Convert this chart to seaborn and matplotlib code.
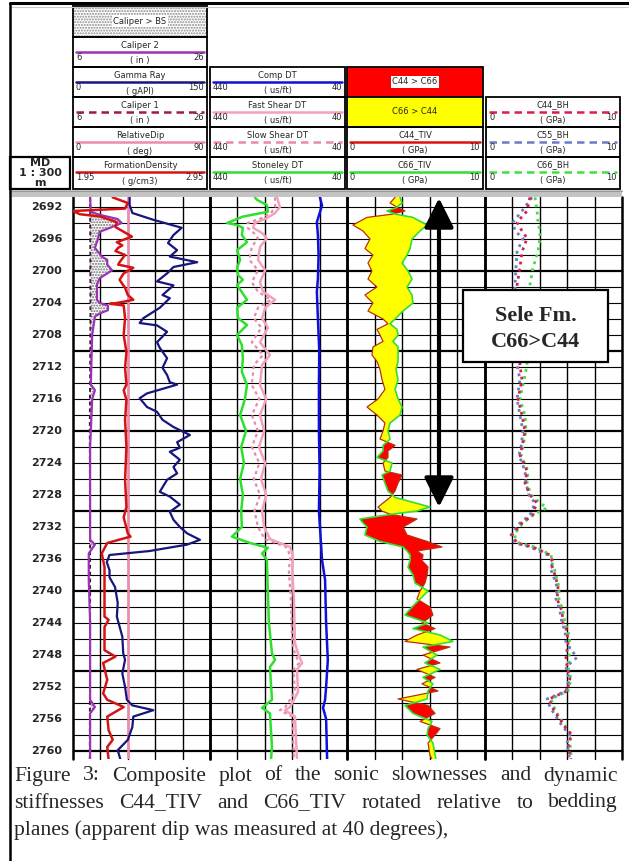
import numpy as np
import matplotlib
matplotlib.use('Agg')
import matplotlib.pyplot as plt
from matplotlib.patches import Rectangle
import seaborn as sns

W, H = 629, 861
TOP_PX, BOT_PX = 197, 759
D_TOP, D_BOT = 2690.75, 2761.0

# ---- track 2: caliper / gamma ray / density / dip
gr_depth = [2690.8, 2691.75, 2692.75, 2693.6, 2694.6, 2695.5, 2696.5, 2697.4, 2698.2, 2698.9,
            2699.5, 2700.3, 2701.3, 2701.8, 2703.0, 2703.4, 2704.6, 2705.9, 2706.5, 2706.8,
            2707.6, 2708.9, 2709.6, 2710.9, 2712.1, 2713.0, 2713.9, 2714.2, 2715.3, 2715.9,
            2717.0, 2717.6, 2718.6, 2719.5, 2720.5, 2721.4, 2722.1, 2722.6, 2723.6, 2724.5,
            2725.3, 2726.1, 2727.6, 2728.2, 2729.2, 2730.1, 2731.1, 2732.0, 2732.8, 2733.6,
            2734.2, 2735.0, 2735.5, 2736.4, 2737.4, 2738.3, 2739.5, 2741.5, 2743.2, 2745.7,
            2747.8, 2748.6, 2750.3, 2752.0, 2753.6, 2754.3, 2754.9, 2755.7, 2757.0, 2758.6,
            2759.9, 2761.1]
gr_api = [62, 62, 65, 88, 119, 110, 104, 114, 106, 136,
          110, 103, 92, 110, 98, 106, 95, 77, 73, 92,
          103, 92, 95, 103, 98, 103, 106, 114, 81, 73,
          81, 92, 98, 110, 128, 114, 117, 106, 117, 110,
          114, 103, 95, 106, 117, 106, 110, 117, 125, 139,
          125, 84, 40, 37, 40, 40, 46, 49, 48, 54,
          55, 57, 54, 57, 59, 65, 88, 66, 65, 60,
          49, 52]

den_depth = [2690.8, 2691.5, 2692.2, 2692.5, 2692.9, 2693.2, 2693.9, 2694.5, 2695.7, 2696.4,
             2696.8, 2697.1, 2697.5, 2698.0, 2698.9, 2699.2, 2699.6, 2700.3, 2701.1, 2702.1,
             2703.0, 2703.6, 2704.0, 2704.1, 2704.3, 2705.9, 2708.0, 2710.1, 2712.1, 2714.2,
             2714.9, 2716.1, 2718.6, 2722.0, 2726.1, 2729.5, 2730.8, 2732.8, 2733.2, 2734.0,
             2735.3, 2737.0, 2739.5, 2743.2, 2743.6, 2744.5, 2747.4, 2748.2, 2749.0, 2751.1,
             2752.8, 2753.6, 2754.5, 2755.7, 2757.4, 2758.6, 2759.5, 2761.1]
den_gcc = [2.24, 2.35, 2.33, 1.95, 2.00, 2.15, 2.27, 2.26, 2.38, 2.27,
           2.31, 2.28, 2.26, 2.33, 2.29, 2.28, 2.39, 2.32, 2.29, 2.33,
           2.35, 2.39, 2.27, 2.22, 2.32, 2.33, 2.32, 2.34, 2.33, 2.34,
           2.32, 2.34, 2.33, 2.34, 2.33, 2.34, 2.32, 2.35, 2.37, 2.20,
           2.16, 2.18, 2.18, 2.18, 2.21, 2.18, 2.18, 2.26, 2.17, 2.20,
           2.17, 2.20, 2.32, 2.20, 2.21, 2.24, 2.20, 2.21]

cal2_depth = [2690.8, 2692.6, 2693.0, 2693.5, 2694.0, 2694.6, 2695.1, 2696.1, 2697.1, 2698.2,
              2698.6, 2699.2, 2699.9, 2700.3, 2700.9, 2701.7, 2703.6, 2704.0, 2704.3, 2704.9,
              2705.3, 2705.7, 2708.0, 2714.2, 2714.9, 2716.0, 2722.0, 2733.6, 2734.2, 2735.3,
              2738.6, 2744.0, 2753.6, 2754.5, 2755.3, 2761.1]
cal2_in = [8.5, 8.6, 10.0, 12.5, 13.1, 11.4, 9.9, 9.6, 9.2, 10.2,
           11.0, 11.0, 11.7, 11.0, 9.9, 9.5, 9.5, 9.9, 11.1, 11.1,
           9.9, 9.2, 8.8, 8.6, 9.2, 8.8, 8.5, 8.5, 9.2, 8.3,
           8.3, 8.5, 8.5, 9.2, 8.5, 8.5]
cal1_depth = [2690.8, 2705.0, 2720.0, 2740.0, 2761.1]
cal1_in = [8.5, 8.55, 8.45, 8.5, 8.45]
BIT_SIZE = 8.5
dip_depth = [2690.8, 2761.1]
dip_deg = [36, 36]

# ---- track 3: sonic slownesses (us/ft)
st_depth = [2690.8, 2691.1, 2691.75, 2692.6, 2693.2, 2694.0, 2694.25, 2694.6, 2695.5, 2696.4,
            2697.4, 2698.6, 2699.6, 2700.5, 2701.1, 2701.75, 2703.6, 2704.6, 2705.9, 2706.75,
            2708.0, 2709.25, 2710.9, 2712.6, 2714.25, 2716.0, 2718.0, 2720.0, 2722.0, 2724.0,
            2726.0, 2728.0, 2730.0, 2732.0, 2733.2, 2734.0, 2734.6, 2735.3, 2736.1, 2740.3,
            2744.0, 2747.8, 2748.6, 2749.5, 2753.6, 2754.6, 2755.3, 2759.5, 2761.1]
st_dt = [309, 303, 274, 271, 344, 390, 361, 344, 347, 332,
         361, 352, 361, 358, 344, 361, 332, 361, 358, 332,
         361, 347, 344, 347, 332, 338, 352, 335, 349, 341,
         352, 344, 349, 347, 376, 323, 271, 288, 274, 271,
         268, 259, 250, 265, 259, 288, 265, 259, 262]

sh_depth = [2690.8, 2692.0, 2692.75, 2693.4, 2694.0, 2694.6, 2695.25, 2695.9, 2697.0, 2698.6,
            2699.9, 2701.4, 2702.6, 2703.6, 2704.6, 2705.9, 2707.1, 2708.9, 2710.5, 2711.75,
            2714.25, 2716.0, 2718.0, 2720.0, 2722.0, 2724.0, 2726.0, 2728.0, 2730.0, 2732.0,
            2733.5, 2734.5, 2735.5, 2736.1, 2737.3, 2741.0, 2746.5, 2747.8, 2749.0, 2749.8,
            2752.6, 2754.5, 2754.9, 2755.7, 2761.1]
fast_dt = [244, 236, 250, 274, 309, 314, 288, 274, 294, 300,
           279, 294, 285, 250, 279, 288, 271, 294, 265, 288,
           294, 276, 294, 282, 297, 279, 291, 276, 288, 282,
           265, 206, 198, 198, 200, 195, 192, 183, 171, 186,
           183, 206, 221, 192, 186]
slow_dt = [250, 250, 262, 290, 330, 330, 312, 300, 318, 325,
           300, 318, 300, 262, 300, 312, 290, 318, 285, 312,
           318, 296, 318, 300, 318, 296, 312, 294, 310, 300,
           280, 218, 206, 206, 210, 204, 200, 192, 180, 196,
           192, 220, 236, 200, 195]

cp_depth = [2690.8, 2691.8, 2693.9, 2695.5, 2698.0, 2701.0, 2702.6, 2705.9, 2710.0, 2714.25,
            2720.0, 2725.0, 2730.0, 2734.0, 2736.1, 2738.6, 2744.0, 2748.6, 2752.0, 2753.6,
            2754.6, 2756.0, 2761.1]
comp_dt = [119, 113, 128, 125, 123, 125, 128, 125, 121, 122,
           122, 120, 122, 116, 113, 104, 101, 96, 101, 104,
           110, 101, 98]

# ---- track 4: TIV stiffnesses (GPa)
tiv_depth = [2690.8, 2691.5, 2692.1, 2692.5, 2692.9, 2693.3, 2694.25, 2695.0, 2696.0, 2697.2,
             2698.0, 2699.0, 2700.0, 2701.0, 2702.0, 2703.0, 2704.0, 2705.0, 2706.0, 2706.6,
             2707.3, 2708.0, 2708.8, 2709.5, 2710.5, 2711.3, 2712.3, 2713.6, 2714.8, 2716.0,
             2717.0, 2718.0, 2719.0, 2720.0, 2721.0, 2721.8, 2722.5, 2723.3, 2724.0, 2725.0,
             2725.5, 2726.5, 2727.5, 2728.3, 2729.5, 2730.0, 2730.4, 2731.0, 2731.5, 2732.0,
             2733.0, 2733.8, 2734.5, 2735.0, 2735.5, 2736.2, 2737.0, 2738.0, 2739.0, 2740.0,
             2741.0, 2742.0, 2743.0, 2744.0, 2744.7, 2745.5, 2746.3, 2747.0, 2748.0, 2749.0,
             2749.8, 2750.8, 2751.6, 2752.5, 2753.5, 2754.3, 2755.3, 2756.3, 2757.2, 2758.0,
             2759.0, 2760.5, 2761.1]
c44_tiv = [3.48, 3.12, 3.70, 4.20, 3.26, 1.45, 0.43, 1.16, 1.67, 1.30,
           1.88, 1.52, 1.81, 1.52, 2.17, 1.30, 1.88, 1.52, 2.61, 2.97,
           2.17, 2.39, 2.61, 1.88, 1.81, 2.17, 2.39, 2.54, 2.75, 2.25,
           1.45, 2.17, 2.75, 2.61, 2.39, 3.48, 2.97, 2.97, 2.61, 2.75,
           3.99, 3.70, 3.48, 3.12, 2.25, 2.54, 3.12, 5.07, 4.57, 4.06,
           4.35, 5.80, 6.88, 5.07, 5.51, 5.43, 5.87, 5.80, 5.65, 5.29,
           5.07, 6.01, 6.23, 5.43, 6.38, 5.07, 4.20, 7.46, 5.51, 6.74,
           5.07, 6.38, 5.43, 6.59, 3.70, 5.87, 6.38, 5.29, 6.74, 6.38,
           5.87, 6.01, 6.16]
c66_tiv = [3.84, 3.99, 3.55, 2.90, 3.55, 4.78, 5.80, 5.29, 4.71, 4.57,
           4.35, 3.99, 4.42, 4.71, 4.35, 4.71, 4.78, 4.06, 3.48, 3.12,
           3.62, 3.70, 3.33, 3.70, 3.70, 3.70, 3.55, 3.70, 3.48, 3.70,
           3.99, 3.84, 3.12, 2.97, 3.12, 2.61, 2.61, 2.17, 3.26, 3.12,
           2.54, 2.75, 2.97, 3.48, 6.01, 5.07, 3.26, 0.94, 1.16, 1.45,
           1.30, 2.39, 4.06, 4.35, 4.57, 4.57, 4.42, 4.78, 4.93, 5.87,
           5.29, 4.71, 4.20, 5.87, 4.78, 6.74, 7.68, 5.51, 6.52, 5.65,
           6.74, 5.51, 6.23, 5.87, 5.80, 4.20, 4.78, 6.16, 5.87, 5.80,
           6.23, 6.38, 6.45]

# ---- track 5: borehole stiffnesses (GPa)
bh_depth = [2690.8, 2692.5, 2693.9, 2695.0, 2695.9, 2697.6, 2699.6, 2701.75, 2705.0, 2708.0,
            2711.75, 2713.6, 2716.0, 2718.0, 2720.0, 2722.0, 2723.0, 2725.0, 2726.5, 2728.0,
            2729.0, 2729.6, 2730.5, 2731.5, 2733.0, 2734.0, 2734.5, 2735.5, 2736.5, 2737.0,
            2738.0, 2739.5, 2741.0, 2742.5, 2744.0, 2745.0, 2746.5, 2748.3, 2749.5, 2751.0,
            2752.5, 2753.5, 2754.5, 2755.5, 2757.0, 2758.0, 2759.0, 2760.5, 2761.1]
c44_bh = [3.28, 3.07, 2.34, 2.70, 3.07, 2.70, 2.55, 2.34, 2.41, 2.48,
          2.55, 2.70, 2.41, 2.70, 2.92, 2.70, 2.55, 3.07, 2.92, 3.28,
          3.80, 3.65, 3.50, 2.70, 1.97, 2.34, 3.50, 4.74, 4.96, 4.89,
          5.11, 5.33, 5.26, 5.62, 5.69, 5.99, 6.06, 5.91, 5.99, 6.20,
          5.99, 4.67, 4.89, 5.26, 5.84, 6.35, 6.06, 6.20, 6.28]
c55_bh = [3.43, 2.70, 2.04, 2.19, 2.77, 2.34, 2.26, 2.19, 2.26, 2.26,
          2.34, 2.55, 2.34, 2.55, 2.77, 2.63, 2.48, 2.92, 2.99, 3.21,
          3.65, 3.50, 3.28, 2.55, 1.90, 2.19, 3.28, 4.60, 5.04, 4.74,
          4.96, 5.26, 5.18, 5.47, 5.62, 5.84, 5.91, 6.72, 5.91, 6.13,
          5.91, 4.53, 4.74, 5.11, 5.69, 6.20, 5.99, 6.13, 6.20]
c66_bh = [3.65, 3.80, 3.87, 4.01, 4.01, 3.87, 3.50, 3.28, 3.14, 3.07,
          3.07, 2.85, 2.55, 2.92, 2.99, 2.77, 2.63, 3.14, 3.07, 3.36,
          4.01, 4.53, 3.50, 2.77, 2.12, 2.48, 3.65, 4.82, 4.89, 5.04,
          5.18, 5.40, 5.40, 5.69, 5.84, 6.06, 6.20, 6.13, 6.06, 6.28,
          6.06, 4.82, 5.04, 5.33, 5.91, 6.28, 6.20, 6.28, 6.35]

depth_labels = list(range(2692, 2761, 4))

CAPTION = ["Figure 3: Composite plot of the sonic slownesses and dynamic",
           "stiffnesses C44_TIV and C66_TIV rotated relative to bedding",
           "planes (apparent dip was measured at 40 degrees),"]

# colours
C_GR = '#16167e'
C_DEN = '#d41414'
C_CAL2 = '#9a34b4'
C_CAL1 = '#4a1848'
C_DIP = '#f08aac'
C_COMP = '#1010dc'
C_FAST = '#f4a2bc'
C_SLOW = '#e88aa8'
C_ST = '#2ee02e'
C_C44 = '#e01010'
C_C66 = '#30e030'
C_C44BH = '#dc1e4a'
C_C55BH = '#6a7cc4'
C_C66BH = '#44dd44'

sns.set_theme(style='white')
plt.rcParams['font.family'] = ['DejaVu Sans']

fig = plt.figure(figsize=(W / 100, H / 100), dpi=100)


def px_rect(x0, y0, x1, y1):
    return [x0 / W, 1 - y1 / H, (x1 - x0) / W, (y1 - y0) / H]


def grid_track(x0, x1):
    ax = fig.add_axes(px_rect(x0, TOP_PX, x1, BOT_PX))
    ax.set_xlim(0, 5)
    ax.set_ylim(D_BOT, D_TOP)
    ax.axis('off')
    for d in range(2692, 2762, 2):
        ax.axhline(d, color='black', lw=1.6 if d % 10 == 0 else 0.8, zorder=0)
    for i in range(6):
        ax.axvline(i, color='black', lw=1.8 if i in (0, 5) else 1.0, zorder=0, clip_on=False)
    return ax


def curve_ax(x0, x1, lo, hi):
    ax = fig.add_axes(px_rect(x0, TOP_PX, x1, BOT_PX))
    ax.set_xlim(lo, hi)
    ax.set_ylim(D_BOT, D_TOP)
    ax.axis('off')
    return ax


def draw_log(ax, vals, depth, color, lw=1.6, ls='-'):
    sns.lineplot(x=vals, y=depth, orient='y', sort=False, estimator=None,
                 color=color, lw=lw, linestyle=ls, ax=ax)


TRK2, TRK3, TRK4, TRK5 = (73, 210), (210, 347), (347, 485), (485, 622)
for t in (TRK2, TRK3, TRK4, TRK5):
    grid_track(*t)

# track 2
ax_cal = curve_ax(*TRK2, 6, 26)
cal2 = np.array(cal2_in)
ax_cal.fill_betweenx(cal2_depth, BIT_SIZE, cal2, where=cal2 > BIT_SIZE, interpolate=True,
                     facecolor='white', hatch='......', edgecolor='#6a6a6a', lw=0)
draw_log(ax_cal, cal1_in, cal1_depth, C_CAL1, lw=1.4, ls=(0, (2, 1.5)))
draw_log(ax_cal, cal2_in, cal2_depth, C_CAL2, lw=1.6)
draw_log(curve_ax(*TRK2, 0, 90), dip_deg, dip_depth, C_DIP, lw=1.8)
draw_log(curve_ax(*TRK2, 1.95, 2.95), den_gcc, den_depth, C_DEN, lw=1.8)
draw_log(curve_ax(*TRK2, 0, 150), gr_api, gr_depth, C_GR, lw=1.6)

# track 3
ax_dt = curve_ax(*TRK3, 440, 40)
draw_log(ax_dt, slow_dt, sh_depth, C_SLOW, lw=1.6, ls=(0, (1.5, 1.5)))
draw_log(ax_dt, fast_dt, sh_depth, C_FAST, lw=1.8)
draw_log(ax_dt, st_dt, st_depth, C_ST, lw=1.8)
draw_log(ax_dt, comp_dt, cp_depth, C_COMP, lw=1.8)

# track 4
ax_tiv = curve_ax(*TRK4, 0, 10)
c44 = np.array(c44_tiv)
c66 = np.array(c66_tiv)
ax_tiv.fill_betweenx(tiv_depth, c44, c66, where=c66 >= c44, interpolate=True, color='#ffff00', lw=0)
ax_tiv.fill_betweenx(tiv_depth, c44, c66, where=c44 > c66, interpolate=True, color='#ff0000', lw=0)
draw_log(ax_tiv, c44_tiv, tiv_depth, '#b83010', lw=0.9)
draw_log(ax_tiv, c66_tiv, tiv_depth, C_C66, lw=1.2)

# track 5
ax_bh = curve_ax(*TRK5, 0, 10)
draw_log(ax_bh, c66_bh, bh_depth, C_C66BH, lw=2.0, ls=(0, (1, 1.6)))
draw_log(ax_bh, c55_bh, bh_depth, C_C55BH, lw=2.0, ls=(0, (1, 1.6)))
draw_log(ax_bh, c44_bh, bh_depth, C_C44BH, lw=2.0, ls=(0, (1, 1.6)))

# depth track
ax_d = curve_ax(10, 73, 0, 1)
for d in depth_labels:
    ax_d.text(0.83, d, str(d), ha='right', va='center', fontsize=8, fontweight='bold')

# ---- overlay: header, separators, annotation, caption
ov = fig.add_axes([0, 0, 1, 1])
ov.set_xlim(0, W)
ov.set_ylim(H, 0)
ov.axis('off')
ov.set_zorder(5)

ROWS = [6, 37, 67, 97, 127, 157, 189]
FS = 6


def header(x0, x1, row, title, color, ls, left, right, unit):
    y0, y1 = ROWS[row], ROWS[row + 1]
    ov.add_patch(Rectangle((x0, y0), x1 - x0, y1 - y0, fill=False, ec='black', lw=1.3))
    xc = (x0 + x1) / 2
    ov.text(xc, y0 + 8, title, ha='center', va='center', fontsize=FS)
    ov.plot([x0 + 3, x1 - 3], [y0 + 15, y0 + 15], color=color, lw=1.8, ls=ls)
    ov.text(x0 + 3, y0 + 21, left, ha='left', va='center', fontsize=FS)
    ov.text(x1 - 3, y0 + 21, right, ha='right', va='center', fontsize=FS)
    ov.text(xc, y0 + 24, unit, ha='center', va='center', fontsize=FS)


DASH = (0, (3, 2))
h2 = (73, 207)
ov.add_patch(Rectangle((h2[0], ROWS[0]), h2[1] - h2[0], ROWS[1] - ROWS[0],
                       facecolor='white', hatch='......', edgecolor='#8a8a8a', lw=0))
ov.add_patch(Rectangle((h2[0], ROWS[0]), h2[1] - h2[0], ROWS[1] - ROWS[0], fill=False, ec='black', lw=1.3))
ov.text(140, 21, 'Caliper > BS', ha='center', va='center', fontsize=FS,
        bbox=dict(facecolor='white', edgecolor='none', pad=0.8))
header(*h2, 1, 'Caliper 2', C_CAL2, '-', '6', '26', '( in )')
header(*h2, 2, 'Gamma Ray', C_GR, '-', '0', '150', '( gAPI)')
header(*h2, 3, 'Caliper 1', '#a01c40', DASH, '6', '26', '( in )')
header(*h2, 4, 'RelativeDip', C_DIP, '-', '0', '90', '( deg)')
header(*h2, 5, 'FormationDensity', C_DEN, '-', '1.95', '2.95', '( g/cm3)')

h3 = (210, 345)
header(*h3, 2, 'Comp DT', C_COMP, '-', '440', '40', '( us/ft)')
header(*h3, 3, 'Fast Shear DT', C_FAST, '-', '440', '40', '( us/ft)')
header(*h3, 4, 'Slow Shear DT', C_SLOW, DASH, '440', '40', '( us/ft)')
header(*h3, 5, 'Stoneley DT', C_ST, '-', '440', '40', '( us/ft)')

h4 = (347, 483)
ov.add_patch(Rectangle((h4[0], ROWS[2]), h4[1] - h4[0], ROWS[3] - ROWS[2], fc='#ff0000', ec='black', lw=1.3))
ov.text(415, 82, 'C44 > C66', ha='center', va='center', fontsize=FS,
        bbox=dict(facecolor='white', edgecolor='none', pad=0.8))
ov.add_patch(Rectangle((h4[0], ROWS[3]), h4[1] - h4[0], ROWS[4] - ROWS[3], fc='#ffff00', ec='black', lw=1.3))
ov.text(415, 112, 'C66 > C44', ha='center', va='center', fontsize=FS)
header(*h4, 4, 'C44_TIV', C_C44, '-', '0', '10', '( GPa)')
header(*h4, 5, 'C66_TIV', C_C66, '-', '0', '10', '( GPa)')

h5 = (486, 620)
header(*h5, 3, 'C44_BH', C_C44BH, DASH, '0', '10', '( GPa)')
header(*h5, 4, 'C55_BH', C_C55BH, DASH, '0', '10', '( GPa)')
header(*h5, 5, 'C66_BH', C_C66BH, DASH, '0', '10', '( GPa)')

# depth header
ov.add_patch(Rectangle((10, ROWS[5]), 60, ROWS[6] - ROWS[5], fill=False, ec='black', lw=1.6))
for txt, yy in (('MD', 163), ('1 : 300', 173.5), ('m', 183)):
    ov.text(40, yy, txt, ha='center', va='center', fontsize=8, fontweight='bold')

# separator band and frame
ov.add_patch(Rectangle((12, 190), 610, 7, fc='#c4c4c4', ec='none'))
ov.plot([12, 622], [190.5, 190.5], color='#9a9a9a', lw=0.8)
ov.plot([10, W], [3, 3], color='black', lw=2.2)
ov.plot([10, W], [6.5, 6.5], color='#c8c8c8', lw=0.8)
ov.plot([10, 10], [3, H], color='black', lw=1.8)

# annotation: arrow and formation label
ov.annotate('', xy=(439, 198), xytext=(439, 507),
            arrowprops=dict(arrowstyle='<|-|>,head_length=1.0,head_width=0.5', mutation_scale=18,
                            lw=3, color='black', shrinkA=0, shrinkB=0))
ov.add_patch(Rectangle((463, 290), 145, 72, fc='white', ec='black', lw=1.6))
ov.text(535.5, 316, 'Sele Fm.', ha='center', va='center', fontsize=16, fontweight='bold',
        family='Liberation Serif')
ov.text(535.5, 342, 'C66>C44', ha='center', va='center', fontsize=16, fontweight='bold',
        family='Liberation Serif')

# caption: size the font from the first line, then justify lines 1-2
CAP_X0, CAP_X1 = 14, 618
fig.canvas.draw()
renderer = fig.canvas.get_renderer()
probe = ov.text(0, 0, CAPTION[0], fontsize=14, family='Liberation Serif')
cap_size = 14 * (CAP_X1 - CAP_X0) / probe.get_window_extent(renderer).width * 0.9
probe.remove()
CAP_KW = dict(fontsize=cap_size, family='Liberation Serif', va='center', ha='left')
for i, (line, yy) in enumerate(zip(CAPTION, (776, 803, 830))):
    if i == len(CAPTION) - 1:
        ov.text(CAP_X0, yy, line, **CAP_KW)
        continue
    words = line.split()
    arts = [ov.text(0, yy, w, **CAP_KW) for w in words]
    widths = [a.get_window_extent(renderer).width for a in arts]
    gap = (CAP_X1 - CAP_X0 - sum(widths)) / (len(words) - 1)
    x = CAP_X0
    for a, w in zip(arts, widths):
        a.set_x(x)
        x += w + gap

fig.savefig('out.png', dpi=100)
